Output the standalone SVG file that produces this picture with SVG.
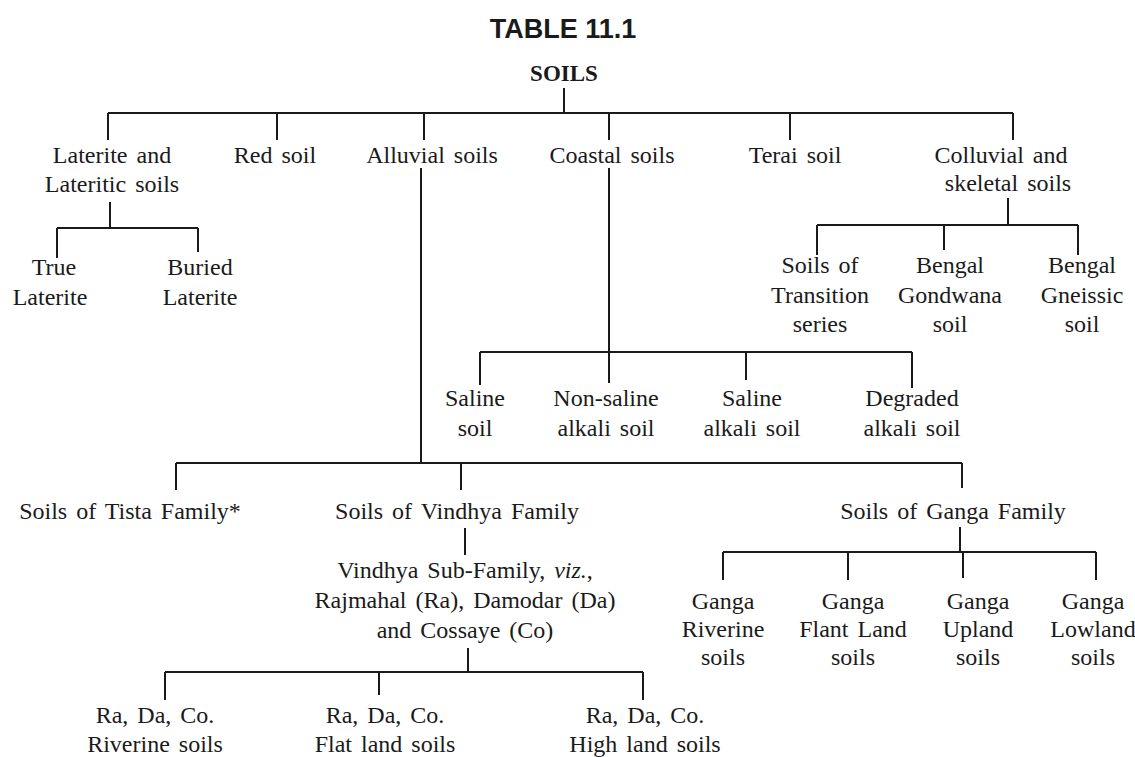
<svg xmlns="http://www.w3.org/2000/svg" width="1135" height="757" viewBox="0 0 1135 757">
<style>
text{font-family:"Liberation Serif","Times New Roman",serif;font-size:24px;fill:#1a1a1a;text-anchor:middle;word-spacing:3px}
.title{font-family:"Liberation Sans",Arial,sans-serif;font-weight:bold;font-size:27px;word-spacing:0}
.root{font-weight:bold;font-size:23px;word-spacing:0}
#connectors path{fill:none;stroke:#1a1a1a;stroke-width:2}
</style>
<rect width="1135" height="757" fill="#fff"/>
<text class="title" x="563" y="38">TABLE 11.1</text>
<g id="connectors">
<path d="M564 88V113M108 113H1013M108 113V140M277 113V140M424 113V140M609 113V140M790 113V140M1013 113V140"/>
<path d="M110 202V228M57 228H198M57 228V258M198 228V252"/>
<path d="M1008 198V225M817 225H1078M817 225V255M944 225V250M1078 225V255"/>
<path d="M609 168V383M480 352H912M480 352V385M746 352V380M912 352V388"/>
<path d="M421 168V463M176 463H962M176 463V490M461 463V490M962 463V488"/>
<path d="M465 528V555"/>
<path d="M468 648V672M165 672H643M165 672V700M379 672V695M643 672V700"/>
<path d="M960 527V552M723 552H1096M723 552V580M848 552V580M963 552V578M1096 552V580"/>
</g>
<g id="n-soils"><text class="root" x="564" y="81">SOILS</text></g>
<g id="n-laterite"><text x="112" y="163">Laterite and</text><text x="112" y="192">Lateritic soils</text></g>
<g id="n-red"><text x="275" y="163">Red soil</text></g>
<g id="n-alluvial"><text x="432" y="163">Alluvial soils</text></g>
<g id="n-coastal"><text x="612" y="163">Coastal soils</text></g>
<g id="n-terai"><text x="795" y="163">Terai soil</text></g>
<g id="n-colluvial"><text x="1001" y="163">Colluvial and</text><text x="1008" y="191">skeletal soils</text></g>
<g id="n-true"><text x="54" y="275">True</text><text x="50" y="305">Laterite</text></g>
<g id="n-buried"><text x="200" y="275">Buried</text><text x="200" y="305">Laterite</text></g>
<g id="n-transition"><text x="820" y="273">Soils of</text><text x="820" y="303">Transition</text><text x="820" y="332">series</text></g>
<g id="n-gondwana"><text x="950" y="273">Bengal</text><text x="950" y="303">Gondwana</text><text x="950" y="332">soil</text></g>
<g id="n-gneissic"><text x="1082" y="273">Bengal</text><text x="1082" y="303">Gneissic</text><text x="1082" y="332">soil</text></g>
<g id="n-saline"><text x="475" y="406">Saline</text><text x="475" y="436">soil</text></g>
<g id="n-nonsaline"><text x="606" y="406">Non-saline</text><text x="606" y="436">alkali soil</text></g>
<g id="n-salinealkali"><text x="752" y="406">Saline</text><text x="752" y="436">alkali soil</text></g>
<g id="n-degraded"><text x="912" y="406">Degraded</text><text x="912" y="436">alkali soil</text></g>
<g id="n-tista"><text x="130" y="519">Soils of Tista Family*</text></g>
<g id="n-vindhya"><text x="457" y="519">Soils of Vindhya Family</text></g>
<g id="n-ganga"><text x="953" y="519">Soils of Ganga Family</text></g>
<g id="n-vsub"><text x="465" y="578">Vindhya Sub-Family, <tspan font-style="italic">viz.</tspan>,</text><text x="465" y="608">Rajmahal (Ra), Damodar (Da)</text><text x="465" y="638">and Cossaye (Co)</text></g>
<g id="n-rariverine"><text x="155" y="723">Ra, Da, Co.</text><text x="155" y="752">Riverine soils</text></g>
<g id="n-raflat"><text x="385" y="723">Ra, Da, Co.</text><text x="385" y="752">Flat land soils</text></g>
<g id="n-rahigh"><text x="645" y="723">Ra, Da, Co.</text><text x="645" y="752">High land soils</text></g>
<g id="n-gangariverine"><text x="723" y="609">Ganga</text><text x="723" y="637">Riverine</text><text x="723" y="665">soils</text></g>
<g id="n-gangaflant"><text x="853" y="609">Ganga</text><text x="853" y="637">Flant Land</text><text x="853" y="665">soils</text></g>
<g id="n-gangaupland"><text x="978" y="609">Ganga</text><text x="978" y="637">Upland</text><text x="978" y="665">soils</text></g>
<g id="n-gangalowland"><text x="1093" y="609">Ganga</text><text x="1093" y="637">Lowland</text><text x="1093" y="665">soils</text></g>
</svg>
